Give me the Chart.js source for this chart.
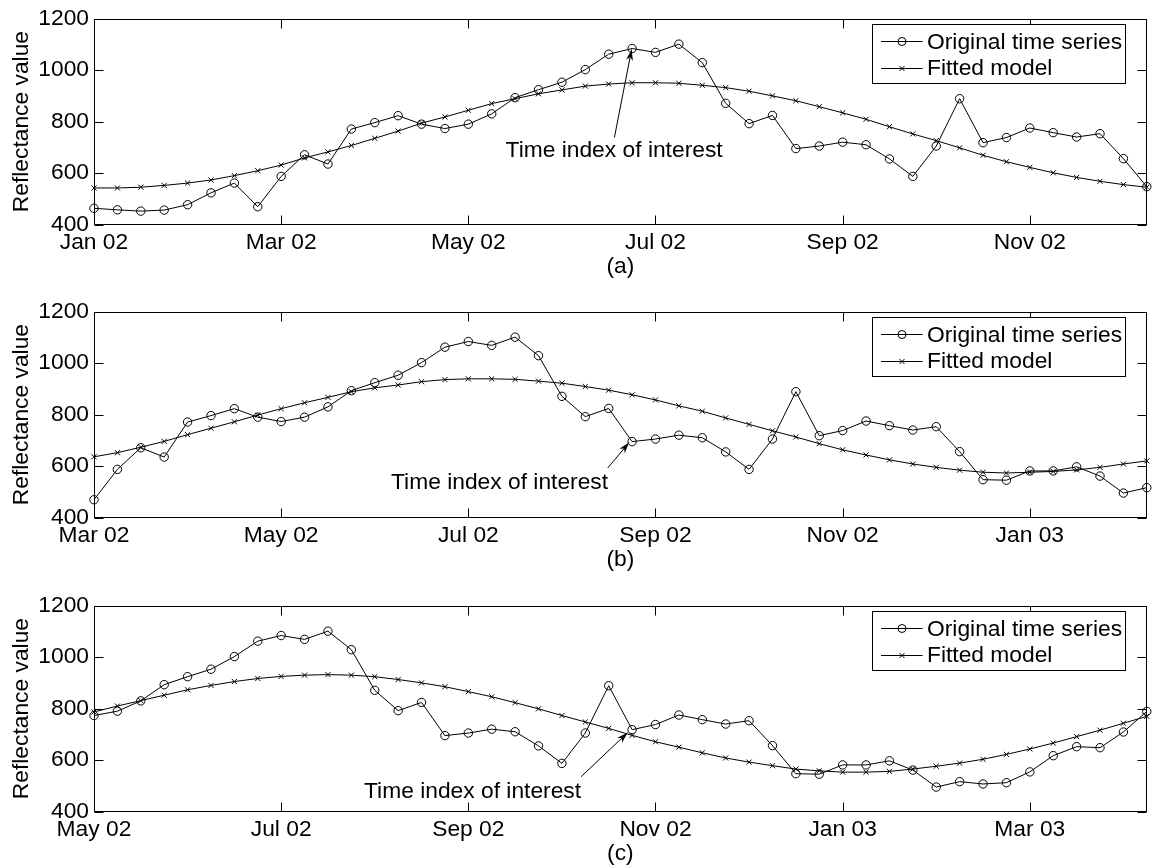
<!DOCTYPE html>
<html><head><meta charset="utf-8">
<script src="https://cdn.jsdelivr.net/npm/chart.js@4.4.1/dist/chart.umd.min.js"></script>
<style>
html,body{margin:0;padding:0;background:#fff;}
body{width:1152px;height:868px;position:relative;overflow:hidden;}
canvas{position:absolute;left:0;}
</style></head><body>
<canvas id="cA" width="1152" height="281" style="top:0px"></canvas>
<canvas id="cB" width="1152" height="281" style="top:293px"></canvas>
<canvas id="cC" width="1152" height="281" style="top:587px"></canvas>
<script>
// ---- data ----
const originalSeries = [463,457,452,456,477,523,561,469,587,671,
  635,771,796,823,790,773,790,830,893,924,
  953,1002,1062,1084,1069,1101,1029,871,792,824,
  695,705,720,710,655,587,705,889,718,738,
  775,757,740,753,656,547,545,581,581,597,
  561,495,516,507,512,554,617,652,648,709,789];
const windowStarts = [0, 7, 15];
const windowLength = 46;
const fittedA = [542,542,545,552,561,573,590,609,631,659,682,707,735,763,794,818,844,870,889,908,923,938,946,951,951,949,941,932,918,900,881,858,834,809,780,752,726,698,669,644,622,601,583,568,555,545];
const fittedB = [636,652,673,696,722,747,772,798,823,846,867,889,904,915,928,936,939,939,937,930,922,909,895,877,857,834,813,787,762,737,713,687,663,643,624,608,595,584,576,573,576,579,585,595,608,620];
const fittedC = [787,810,831,852,873,890,905,917,925,930,932,930,924,913,900,885,866,846,823,799,773,748,723,696,671,650,628,608,592,578,565,558,553,553,556,565,576,588,603,622,643,666,691,716,743,770];
const tickLabelsA = ['Jan 02','Mar 02','May 02','Jul 02','Sep 02','Nov 02'];
const tickLabelsB = ['Mar 02','May 02','Jul 02','Sep 02','Nov 02','Jan 03'];
const tickLabelsC = ['May 02','Jul 02','Sep 02','Nov 02','Jan 03','Mar 03'];
const tickPositions = [0,8,16,24,32,40];
const yTickValues = [400,600,800,1000,1200];
const panelTitles = ['(a)','(b)','(c)'];
const seriesNames = ['Original time series','Fitted model'];
const yAxisTitle = 'Reflectance value';
const annotationText = 'Time index of interest';
const indexOfInterest = 23;

// ---- styling / drawing ----
const FONT = '"Liberation Sans", Arial, Helvetica, sans-serif';
const FS = 22.8;

const framePlugin = {
  id: 'frame',
  beforeDatasetsDraw(chart) {
    const {ctx, chartArea: a, scales: {x, y}} = chart;
    ctx.save();
    ctx.strokeStyle = '#000'; ctx.lineWidth = 1;
    const L = Math.round(a.left) + 0.5, R = Math.round(a.right) - 0.5;
    const T = Math.round(a.top) + 0.5, B = Math.round(a.bottom) - 0.5;
    ctx.strokeRect(L, T, R - L, B - T);
    const tl = 9;
    ctx.beginPath();
    x.ticks.forEach(t => {
      const px = Math.round(x.getPixelForValue(t.value)) + 0.5;
      ctx.moveTo(px, B); ctx.lineTo(px, B - tl);
      ctx.moveTo(px, T); ctx.lineTo(px, T + tl);
    });
    y.ticks.forEach(t => {
      const py = Math.round(y.getPixelForValue(t.value)) + 0.5;
      ctx.moveTo(L, py); ctx.lineTo(L + tl, py);
      ctx.moveTo(R, py); ctx.lineTo(R - tl, py);
    });
    ctx.stroke();
    ctx.restore();
  },
  afterDatasetsDraw(chart) {
    const {ctx, chartArea: a, scales: {x, y}} = chart;
    const opt = chart.options.plugins.frame;
    ctx.save();
    ctx.fillStyle = '#000'; ctx.strokeStyle = '#000'; ctx.lineWidth = 1;
    // annotation arrow
    const pt = chart.data.datasets[0].data[indexOfInterest];
    const cx = x.getPixelForValue(pt.x), cy = y.getPixelForValue(pt.y);
    const an = opt.annot;
    const tipX = cx + an.tip[0], tipY = cy + an.tip[1];
    const tailX = cx + an.tail[0], tailY = cy + an.tail[1];
    ctx.beginPath(); ctx.moveTo(tailX, tailY); ctx.lineTo(tipX, tipY); ctx.stroke();
    const ang = Math.atan2(tipY - tailY, tipX - tailX);
    const hl = 11, hw = 3.5;
    ctx.beginPath();
    ctx.moveTo(tipX, tipY);
    ctx.lineTo(tipX - hl*Math.cos(ang) + hw*Math.sin(ang), tipY - hl*Math.sin(ang) - hw*Math.cos(ang));
    ctx.lineTo(tipX - hl*0.7*Math.cos(ang), tipY - hl*0.7*Math.sin(ang));
    ctx.lineTo(tipX - hl*Math.cos(ang) - hw*Math.sin(ang), tipY - hl*Math.sin(ang) + hw*Math.cos(ang));
    ctx.closePath(); ctx.fill();
    ctx.font = FS + 'px ' + FONT;
    ctx.textAlign = an.align; ctx.textBaseline = 'middle';
    ctx.fillText(annotationText, cx + an.text[0], cy + an.text[1]);
    // legend
    const bl = Math.round(a.right - 275) + 0.5, br = Math.round(a.right - 22) + 0.5;
    const bt = Math.round(a.top + 5) + 0.5, bb = bt + 59;
    ctx.fillStyle = '#fff'; ctx.fillRect(bl, bt, br - bl, bb - bt);
    ctx.strokeRect(bl, bt, br - bl, bb - bt);
    ctx.fillStyle = '#000';
    const rows = [a.top + 22.7, a.top + 49.3];
    rows.forEach((ry, i) => {
      const ryy = Math.round(ry) + 0.5;
      ctx.beginPath(); ctx.moveTo(bl + 8.5, ryy); ctx.lineTo(bl + 50, ryy); ctx.stroke();
      const mx = bl + 29.5;
      ctx.beginPath();
      if (i === 0) { ctx.arc(mx, ryy, 4, 0, Math.PI*2); }
      else { ctx.moveTo(mx-2.5, ryy-2.5); ctx.lineTo(mx+2.5, ryy+2.5); ctx.moveTo(mx+2.5, ryy-2.5); ctx.lineTo(mx-2.5, ryy+2.5); }
      ctx.stroke();
      ctx.textAlign = 'left'; ctx.textBaseline = 'middle';
      ctx.fillText(seriesNames[i], bl + 54.5, ry + 1);
    });
    ctx.restore();
  }
};

function makePanel(canvasId, start, fitted, tickLabels, title, annot) {
  const orig = originalSeries.slice(start, start + windowLength).map((v, i) => ({x: i, y: v}));
  const fit = fitted.map((v, i) => ({x: i, y: v}));
  new Chart(document.getElementById(canvasId), {
    type: 'line',
    data: {
      datasets: [
        {label: seriesNames[0], data: orig, borderColor: '#000', borderWidth: 1,
         pointStyle: 'circle', pointRadius: 4.2, pointBorderWidth: 1, pointBorderColor: '#000',
         pointBackgroundColor: 'rgba(0,0,0,0)', tension: 0, clip: false, fill: false},
        {label: seriesNames[1], data: fit, borderColor: '#000', borderWidth: 1,
         pointStyle: 'crossRot', pointRadius: 3.6, pointBorderWidth: 1, pointBorderColor: '#000',
         pointBackgroundColor: 'rgba(0,0,0,0)', tension: 0, clip: false, fill: false}
      ]
    },
    options: {
      responsive: false, animation: false, devicePixelRatio: 1, events: [],
      layout: {padding: {top: 14, right: 4, bottom: 0, left: 0}},
      plugins: {legend: {display: false}, tooltip: {enabled: false}, frame: {annot: annot}},
      scales: {
        x: {
          type: 'linear', min: 0, max: windowLength - 1,
          grid: {display: false, drawTicks: false}, border: {display: false},
          afterBuildTicks: ax => { ax.ticks = tickPositions.map(v => ({value: v})); },
          afterFit: s => { s.height = 56.5; },
          ticks: {color: '#000', font: {family: FONT, size: FS}, padding: 4.5, autoSkip: false, maxRotation: 0,
                  callback: v => tickLabels[tickPositions.indexOf(v)]},
          title: {display: true, text: title, color: '#000', font: {family: FONT, size: FS}, padding: {top: 0, bottom: 0.5}}
        },
        y: {
          type: 'linear', min: 400, max: 1200,
          grid: {display: false, drawTicks: false}, border: {display: false},
          afterBuildTicks: ax => { ax.ticks = yTickValues.map(v => ({value: v})); },
          afterFit: s => { s.width = 94; },
          ticks: {color: '#000', font: {family: FONT, size: FS}, padding: 5, callback: v => String(v)},
          title: {display: true, text: yAxisTitle, color: '#000', font: {family: FONT, size: FS}, padding: {top: 8, bottom: 0}}
        }
      }
    },
    plugins: [framePlugin]
  });
}

makePanel('cA', windowStarts[0], fittedA, tickLabelsA, panelTitles[0],
  {tip: [-0.5, 1], tail: [-17.7, 89], text: [-18, 102], align: 'center'});
makePanel('cB', windowStarts[1], fittedB, tickLabelsB, panelTitles[1],
  {tip: [-3, 1], tail: [-24.4, 26.4], text: [-24, 41.4], align: 'right'});
makePanel('cC', windowStarts[2], fittedC, tickLabelsC, panelTitles[2],
  {tip: [-4.5, 3], tail: [-51, 47], text: [-51, 62.5], align: 'right'});
</script>
</body></html>
